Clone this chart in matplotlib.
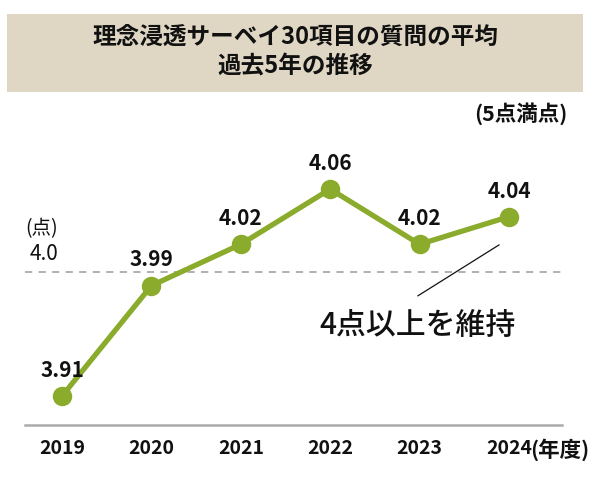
import matplotlib.pyplot as plt
from matplotlib.patches import Rectangle

plt.rcParams['font.family'] = ['Noto Sans CJK JP', 'DejaVu Sans']

years = ['2019', '2020', '2021', '2022', '2023', '2024']
scores = [3.91, 3.99, 4.02, 4.06, 4.02, 4.04]
labels = ['3.91', '3.99', '4.02', '4.06', '4.02', '4.04']
threshold = 4.0

green = '#8aab2b'
ink = '#111111'

fig = plt.figure(figsize=(6, 4.83), dpi=100)

# title box
fig.patches.append(Rectangle((7 / 600, 1 - 92 / 483), 576 / 600, 78 / 483,
                             transform=fig.transFigure, facecolor='#dfd7c4',
                             edgecolor='none'))
fig.text(0.492, 1 - 37 / 483, '理念浸透サーベイ30項目の質問の平均', ha='center', va='center',
         fontsize=17, fontweight='bold', color=ink)
fig.text(0.492, 1 - 67 / 483, '過去5年の推移', ha='center', va='center',
         fontsize=17, fontweight='bold', color=ink)
fig.text(568 / 600, 1 - 114 / 483, '(5点満点)', ha='right', va='center',
         fontsize=15.5, fontweight='bold', color=ink)

ax = fig.add_axes([25 / 600, 58 / 483, 537 / 600, 325 / 483])
x = list(range(len(years)))
ax.set_xlim(-0.414, 5.593)
ax.set_ylim(3.889, 4.1246)

ax.axhline(threshold, color='#aaaaaa', lw=1.3, ls=(0, (4, 3.5)))
ax.plot(x, scores, color=green, lw=3.8, marker='o', ms=13, zorder=3)

for xi, yi, lab in zip(x, scores, labels):
    ax.annotate(lab, (xi, yi), xytext=(0, 18.5), textcoords='offset points',
                ha='center', va='center', fontsize=15, fontweight='bold',
                color=ink)

for s in ['top', 'right', 'left']:
    ax.spines[s].set_visible(False)
ax.spines['bottom'].set_color('#aaaaaa')
ax.spines['bottom'].set_linewidth(1.8)
ax.set_yticks([])
ax.set_xticks(x)
ax.set_xticklabels(years, fontsize=14, fontweight='bold', color=ink)
ax.tick_params(axis='x', length=0, pad=10)

# y-axis notes
ax.annotate('(点)', (-0.414, threshold), xytext=(0, 31), textcoords='offset points',
            ha='left', va='center', fontsize=14, color=ink)
ax.annotate('4.0', (-0.414, threshold), xytext=(3, 13), textcoords='offset points',
            ha='left', va='center', fontsize=15, color=ink)
ax.annotate('(年度)', (5, 3.889), xytext=(15, -18), textcoords='offset points',
            ha='left', va='center', fontsize=15.5, fontweight='bold', color=ink,
            annotation_clip=False)

# callout
ax.annotate('', xy=(4.89, 4.0196), xytext=(3.98, 3.9826),
            arrowprops=dict(arrowstyle='-', color=ink, lw=0.9,
                            shrinkA=0, shrinkB=0))
ax.text(3.98, 3.961, '4点以上を維持', ha='center', va='center',
        fontsize=21.5, fontweight='medium', color=ink)

fig.savefig('out.png', dpi=100)
